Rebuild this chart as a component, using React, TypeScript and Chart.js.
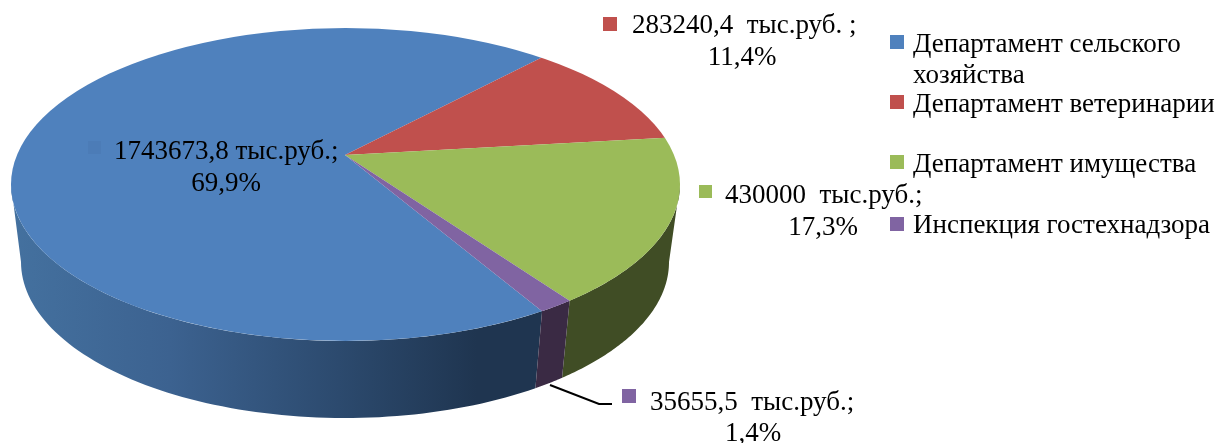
import React, { useEffect, useRef } from "react";
import { Chart, registerables } from "chart.js";

Chart.register(...registerables);

const categories = ["Департамент сельского хозяйства", "Департамент ветеринарии", "Департамент имущества", "Инспекция гостехнадзора"];
const values = [1743673.8, 283240.4, 430000, 35655.5];
const colors = ["#4f81bd", "#c0504d", "#9bbb59", "#8064a2"];
const valueLabels = ["1743673,8 тыс.руб.;", "283240,4  тыс.руб. ;", "430000  тыс.руб.;", "35655,5  тыс.руб.;"];
const percentLabels = ["69,9%", "11,4%", "17,3%", "1,4%"];
const legendLines = [["Департамент сельского", "хозяйства"], ["Департамент ветеринарии"], ["Департамент имущества"], ["Инспекция гостехнадзора"]];

const W = 1217;
const H = 443;
const FONT = '27px "Liberation Serif"';
const SX = 2.9;
const SY = 2.9 * 0.45;
const TOP = { cx: 345.5, cy: 184.5, rx: 334.5, ry: 156.5 };
const BOTTOM = { cx: 345, cy: 262, rx: 324, ry: 156 };
const wallSolid = ["", "#6b2a28", "#404d25", "#3a2a44"];

const labelPos = [
  { key: [88, 141, 13], x: 114, y1: 159, cx2: 226, y2: 191 },
  { key: [603, 17, 14], x: 632, y1: 33, cx2: 742, y2: 65 },
  { key: [699, 185, 13], x: 725, y1: 203, cx2: 823, y2: 235 },
  { key: [622, 389, 14], x: 650, y1: 410, cx2: 753, y2: 441 },
];
const legendPos = [
  { key: 35, y: [52, 83] },
  { key: 95, y: [112] },
  { key: 155, y: [172] },
  { key: 217, y: [233] },
];

function rimParam(arcX: number, arcY: number, a: number) {
  const ox = arcX - TOP.cx, oy = arcY - TOP.cy;
  const dx = Math.cos(a) * SX, dy = Math.sin(a) * SY;
  const A = (dx * dx) / (TOP.rx * TOP.rx) + (dy * dy) / (TOP.ry * TOP.ry);
  const B = 2 * ((ox * dx) / (TOP.rx * TOP.rx) + (oy * dy) / (TOP.ry * TOP.ry));
  const C = (ox * ox) / (TOP.rx * TOP.rx) + (oy * oy) / (TOP.ry * TOP.ry) - 1;
  const s = (-B + Math.sqrt(B * B - 4 * A * C)) / (2 * A);
  return Math.atan2((oy + s * dy) / TOP.ry, (ox + s * dx) / TOP.rx);
}

const pie3d = {
  id: "pie3d",
  beforeDatasetsDraw(chart: any) {
    const ctx = chart.ctx as CanvasRenderingContext2D;
    const arcs = chart.getDatasetMeta(0).data as any[];
    arcs.forEach((arc, i) => {
      const p = arc.getProps(["x", "y", "startAngle", "endAngle"], true);
      const t0 = rimParam(p.x, p.y, p.startAngle);
      let t1 = rimParam(p.x, p.y, p.endAngle);
      if (t1 < t0) t1 += Math.PI * 2;
      const lo = Math.max(t0, 0), hi = Math.min(t1, Math.PI);
      if (hi <= lo) return;
      ctx.beginPath();
      const n = 80;
      for (let k = 0; k <= n; k++) {
        const t = lo + ((hi - lo) * k) / n;
        const x = TOP.cx + TOP.rx * Math.cos(t), y = TOP.cy + TOP.ry * Math.sin(t);
        if (k === 0) ctx.moveTo(x, y); else ctx.lineTo(x, y);
      }
      for (let k = n; k >= 0; k--) {
        const t = lo + ((hi - lo) * k) / n;
        ctx.lineTo(BOTTOM.cx + BOTTOM.rx * Math.cos(t), BOTTOM.cy + BOTTOM.ry * Math.sin(t));
      }
      ctx.closePath();
      if (i === 0) {
        const g = ctx.createLinearGradient(11, 0, 540, 0);
        g.addColorStop(0, "#44719f");
        g.addColorStop(0.3, "#3c6290");
        g.addColorStop(0.62, "#2c4a6e");
        g.addColorStop(0.88, "#1f3550");
        g.addColorStop(1, "#1f3550");
        ctx.fillStyle = g;
      } else {
        ctx.fillStyle = wallSolid[i];
      }
      ctx.fill();
    });
    const first = arcs[0].getProps(["x", "y"], true);
    ctx.save();
    ctx.beginPath();
    ctx.ellipse(TOP.cx, TOP.cy, TOP.rx, TOP.ry, 0, 0, Math.PI * 2);
    ctx.clip();
    ctx.translate(first.x, first.y);
    ctx.scale(SX, SY);
    ctx.translate(-first.x, -first.y);
  },
  afterDatasetsDraw(chart: any) {
    chart.ctx.restore();
  },
  afterDraw(chart: any) {
    const ctx = chart.ctx as CanvasRenderingContext2D;
    ctx.save();
    ctx.font = FONT;
    ctx.fillStyle = "#000";
    ctx.textBaseline = "alphabetic";
    ctx.strokeStyle = "#000";
    ctx.lineWidth = 2;
    ctx.beginPath();
    ctx.moveTo(550, 385);
    ctx.lineTo(599, 404);
    ctx.lineTo(612, 404);
    ctx.stroke();
    labelPos.forEach((l, i) => {
      ctx.fillStyle = i === 0 ? "#4c7cb7" : colors[i];
      ctx.fillRect(l.key[0], l.key[1], l.key[2], l.key[2]);
      ctx.fillStyle = "#000";
      ctx.textAlign = "left";
      ctx.fillText(valueLabels[i], l.x, l.y1);
      ctx.textAlign = "center";
      ctx.fillText(percentLabels[i], l.cx2, l.y2);
    });
    ctx.textAlign = "left";
    legendLines.forEach((lines, i) => {
      ctx.fillStyle = colors[i];
      ctx.fillRect(890, legendPos[i].key, 14, 14);
      ctx.fillStyle = "#000";
      lines.forEach((s, j) => ctx.fillText(s, 913, legendPos[i].y[j]));
    });
    ctx.restore();
  },
};

export default function App() {
  const ref = useRef<HTMLCanvasElement | null>(null);
  useEffect(() => {
    const chart = new Chart(ref.current!, {
      type: "pie",
      data: {
        labels: categories,
        datasets: [{ data: values, backgroundColor: colors, borderWidth: 0, clip: false } as any],
      },
      options: {
        responsive: false,
        animation: false,
        rotation: 150.4,
        events: [],
        layout: { padding: { left: 0, top: 0, right: W - 690, bottom: H - 310 } },
        plugins: { legend: { display: false }, tooltip: { enabled: false } },
      },
      plugins: [pie3d],
    });
    return () => chart.destroy();
  }, []);
  return (
    <div style={{ position: "fixed", left: 0, top: 0, width: W, height: H, background: "#fff" }}>
      <canvas ref={ref} width={W} height={H} style={{ display: "block" }} />
    </div>
  );
}
